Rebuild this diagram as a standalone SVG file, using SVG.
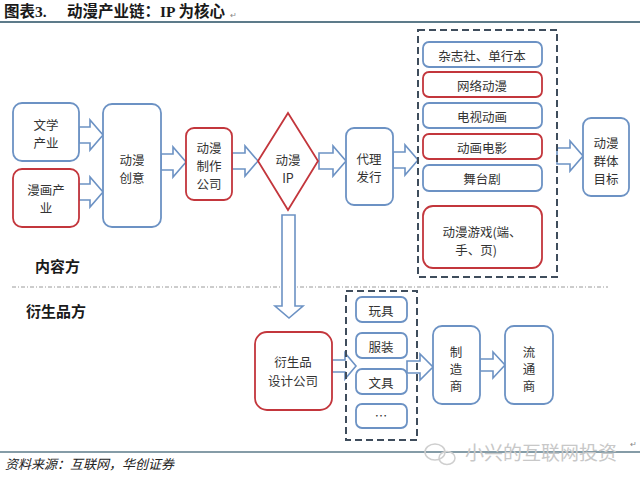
<svg xmlns="http://www.w3.org/2000/svg" width="640" height="487" viewBox="0 0 640 487">
<style>
.bg{fill:#ffffff}
.b{fill:#ffffff;stroke:#6c92c4;stroke-width:1.8}
.r{fill:#ffffff;stroke:#c3363c;stroke-width:1.8}
.arr{fill:#ffffff;stroke:#6c92c4;stroke-width:1.6;stroke-linejoin:miter}
.dash{fill:none;stroke:#3f4d5c;stroke-width:2;stroke-dasharray:7 4}
.t{font-family:"Noto Sans CJK SC","Liberation Sans",sans-serif;font-size:12.5px;fill:#333333;text-anchor:middle;dominant-baseline:central}
.v{font-family:"Noto Sans CJK SC","Liberation Sans",sans-serif;font-size:12.5px;fill:#333333;text-anchor:middle;writing-mode:vertical-rl;letter-spacing:4.5px}
.h{font-family:"Liberation Serif","Noto Sans CJK SC",serif;font-size:15.5px;font-weight:bold;fill:#1a1a1a}
.sec{font-family:"Noto Sans CJK SC","Liberation Sans",sans-serif;font-size:15px;font-weight:bold;fill:#1a1a1a}
.src{font-family:"Liberation Serif","Noto Sans CJK SC",serif;font-size:13px;font-style:italic;fill:#222222}
.wm{font-family:"Noto Sans CJK SC","Liberation Sans",sans-serif;font-size:19px;fill:#c8c8c8}
.ret{font-family:"Liberation Sans",sans-serif;font-size:8px;fill:#888888}
</style>
<rect class="bg" x="0" y="0" width="640" height="487"/>

<!-- header -->
<g id="title">
<text class="h" x="4" y="17">图表3.</text>
<text class="h" x="67" y="17">动漫产业链：IP 为核心</text>
<text class="ret" x="230" y="18">↵</text>
<line x1="0" y1="22" x2="640" y2="22" stroke="#5d7b8a" stroke-width="2"/>
</g>

<!-- section labels -->
<g id="sections">
<text class="sec" x="35" y="272">内容方</text>
<line x1="12" y1="287" x2="608" y2="287" stroke="#9a9a9a" stroke-width="1" stroke-dasharray="4 2 1 2"/>
<text class="sec" x="26" y="317">衍生品方</text>
</g>

<!-- connectors -->
<g id="connectors">
<polygon class="arr" points="79,127 90,127 90,120 103,135 90,150 90,143 79,143"/>
<polygon class="arr" points="79,184 90,184 90,177 103,192 90,207 90,200 79,200"/>
<polygon class="arr" points="161,154 173,154 173,147 186,162 173,177 173,170 161,170"/>
<polygon class="arr" points="232,153 245,153 245,146 258,161 245,176 245,169 232,169"/>
<polygon class="arr" points="319,153 333,153 333,146 346,161 333,176 333,169 319,169"/>
<polygon class="arr" points="393,152 405,152 405,145 418,160 405,175 405,168 393,168"/>
<polygon class="arr" points="557,148 570,148 570,141 583,156 570,171 570,164 557,164"/>
<polygon class="arr" points="282,215 295,215 295,306 303,306 289,318 275,306 282,306"/>
<polygon class="arr" points="332,360 345,360 345,353 356,366 345,379 345,372 332,372"/>
<polygon class="arr" points="407,361 420,361 420,354 433,367 420,380 420,373 407,373"/>
<polygon class="arr" points="480,359 493,359 493,352 505,365 493,378 493,371 480,371"/>
</g>

<!-- content side nodes -->
<g id="n-wenxue"><rect class="b" x="13" y="103" width="66" height="58" rx="9"/><text class="t" x="46" y="124">文学</text><text class="t" x="46" y="142">产业</text></g>
<g id="n-manhua"><rect class="r" x="13" y="169" width="66" height="58" rx="9"/><text class="t" x="46" y="189">漫画产</text><text class="t" x="46" y="207">业</text></g>
<g id="n-chuangyi"><rect class="b" x="103" y="104" width="58" height="123" rx="9"/><text class="t" x="132" y="159">动漫</text><text class="t" x="132" y="177">创意</text></g>
<g id="n-zhizuo"><rect class="r" x="186" y="128" width="46" height="72" rx="8"/><text class="t" x="209" y="147">动漫</text><text class="t" x="209" y="165">制作</text><text class="t" x="209" y="183">公司</text></g>
<g id="n-ip"><polygon class="r" points="288,113 318,161 288,210 258,161"/><text class="t" x="288" y="159">动漫</text><text class="t" x="288" y="177">IP</text></g>
<g id="n-daili"><rect class="b" x="346" y="128" width="47" height="77" rx="8"/><text class="t" x="369" y="158">代理</text><text class="t" x="369" y="176">发行</text></g>

<g id="g-media">
<rect class="dash" x="418" y="30" width="139" height="247"/>
<g id="n-zazhi"><rect class="b" x="423" y="42" width="119" height="25" rx="6"/><text class="t" x="482" y="55">杂志社、单行本</text></g>
<g id="n-wangluo"><rect class="r" x="423" y="72" width="119" height="25" rx="6"/><text class="t" x="482" y="85">网络动漫</text></g>
<g id="n-dianshi"><rect class="b" x="423" y="103" width="119" height="25" rx="6"/><text class="t" x="482" y="116">电视动画</text></g>
<g id="n-dianying"><rect class="r" x="423" y="134" width="119" height="25" rx="6"/><text class="t" x="482" y="147">动画电影</text></g>
<g id="n-wutai"><rect class="b" x="423" y="165" width="119" height="26" rx="6"/><text class="t" x="482" y="178">舞台剧</text></g>
<g id="n-youxi"><rect class="r" x="423" y="206" width="119" height="62" rx="10"/><text class="t" x="482" y="231">动漫游戏(端、</text><text class="t" x="476" y="249">手、页)</text></g>
</g>

<g id="n-mubiao"><rect class="b" x="583" y="118" width="46" height="78" rx="8"/><text class="t" x="606" y="142">动漫</text><text class="t" x="606" y="160">群体</text><text class="t" x="606" y="178">目标</text></g>

<!-- derivative side nodes -->
<g id="n-yansheng"><rect class="r" x="255" y="332" width="77" height="78" rx="12"/><text class="t" x="293" y="361">衍生品</text><text class="t" x="293" y="380">设计公司</text></g>
<g id="g-products">
<rect class="dash" x="346" y="291" width="71" height="149"/>
<g id="n-wanju"><rect class="b" x="356" y="297" width="51" height="25" rx="6"/><text class="t" x="381" y="310">玩具</text></g>
<g id="n-fuzhuang"><rect class="b" x="356" y="333" width="51" height="25" rx="6"/><text class="t" x="381" y="346">服装</text></g>
<g id="n-wenju"><rect class="b" x="356" y="369" width="51" height="25" rx="6"/><text class="t" x="381" y="382">文具</text></g>
<g id="n-more"><rect class="b" x="356" y="404" width="51" height="24" rx="6"/><text class="t" x="381" y="415">…</text></g>
</g>
<g id="n-zhizao"><rect class="b" x="433" y="326" width="47" height="78" rx="9"/><text class="v" x="456" y="371">制造商</text></g>
<g id="n-liutong"><rect class="b" x="505" y="326" width="48" height="78" rx="9"/><text class="v" x="529" y="371">流通商</text></g>

<!-- footer -->
<g id="footer">
<line x1="0" y1="452" x2="640" y2="452" stroke="#5d7b8a" stroke-width="1.5"/>
<text class="src" x="5" y="469">资料来源：互联网，华创证券</text>
<g fill="none" stroke="#cfcfcf" stroke-width="1.5"><ellipse cx="435" cy="452" rx="10" ry="8"/><ellipse cx="447" cy="458" rx="8" ry="6.5"/></g>
<text class="wm" x="465" y="460">小兴的互联网投资</text>
<text class="ret" x="630" y="447">↵</text>
</g>
</svg>
